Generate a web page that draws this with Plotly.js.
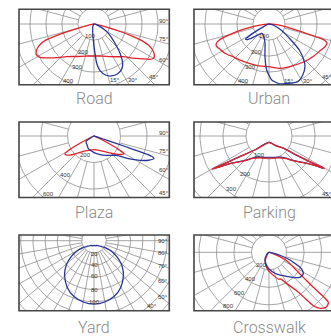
<!DOCTYPE html>
<html><head><meta charset="utf-8">
<script src="https://cdn.plot.ly/plotly-3.0.1.min.js"></script>
<style>html,body{margin:0;padding:0;background:#fff}#chart{width:331px;height:336px}</style>
</head><body><div id="chart"></div>
<script>
// ---------- DATA (gamma angle in degrees, 0 = nadir; intensity cd/klm) ----------
const roadRedAngle  = [-90,-82,-76,-72.9,-70.8,-68.5,-66.8,-64.5,-62.6,-60.5,-58.3,-54,-48,-40,-28,-15,0,15,26,35,42,49,54,57.8,59.8,61.5,63.5,66.1,68.9,71,72.5,74,77,82,90];
const roadRedCd     = [0,15,69,233,336,368,385,400,408,405,397,360,315,266,230,208,200,208,227,250,275,326,370,414,428,429,420,401,364,310,250,170,60,15,0];
const roadBlueAngle = [-90,-45,-25,-12.5,-6,-2.4,0,2,3.9,7.3,13.2,18.8,25,31.4,36.1,41.6,47.4,52,56.9,61,66,72,80,90];
const roadBlueCd    = [0,5,18,38,70,100,140,183,246,294,329,343,345,332,304,245,178,140,107,75,41,18,5,0];
const roadRings     = [100,200,300,400];
const roadAngleTicks = ['90°','75°','60°','45°','30°','15°'];

const urbanRedAngle  = [-90,-85,-80.6,-78,-75.6,-72.2,-69.3,-66.5,-64.2,-56,-48,-38,-26.6,-13,0,15.2,30,43.1,55,63.4,68,71.6,73.5,74.6,76.5,80,85,90];
const urbanRedCd     = [0,40,103,170,234,326,354,356,349,330,305,288,275,269,267,287,300,323,345,363,378,382,365,337,206,120,50,0];
const urbanBlueAngle = [-90,-70,-64,-60,-57,-54,-50,-45,-38,-30,-20,-11.7,-7,-2.9,2.8,10,17.5,26.4,33.5,40.1,43.1,49.4,54,58,63.4,70,78,90];
const urbanBlueCd    = [0,5,40,120,175,165,130,95,75,75,90,123,206,288,350,380,389,403,382,349,323,250,170,125,84,45,15,0];
const urbanRings     = [100,200,300,400];
const urbanAngleTicks = ['15°','30°','45°'];

const plazaRedAngle  = [-90,-70,-65,-62.5,-60.5,-58.6,-56,-52,-46,-35,-20,0,20,38,46,52,57,59.5,61,62.5,64,66,70,90];
const plazaRedCd     = [0,5,40,130,220,257,255,235,195,141,115,103,115,154,190,225,255,263,230,160,90,35,8,0];
const plazaBlueAngle = [-90,-70,-60,-56,-46,-36,-24,0,8.7,25,40,49.6,56.5,62.1,66,69.3,70.5,71,71.4,71.8,73,76,90];
const plazaBlueCd    = [0,5,30,72,80,87,105,125,135,160,190,225,310,393,450,484,465,420,260,100,30,10,0];
const plazaRings     = [200,400,600];
const plazaAngleTicks = ['90°','75°','60°','45°'];

// Parking curves are closed loops: lower edge left->right, then upper edge right->left
const parkingRedAngle  = [-59.8,-58.5,-55,-49.7,-43,-37.3,-25,-12,0,12,25,37.3,43,49.7,55,58,59.4,59.6,58,55.5,50.3,35,0,-35,-43.9,-54.1,-57.9,-59.5,-59.8];
const parkingRedCd     = [288,262,212,175,145,124,105,98,96,98,105,124,145,175,212,250,279,270,215,151,86,52,29,52,80,148,218,270,288];
const parkingBlueAngle = [-59.6,-58.3,-54.8,-49.5,-42.8,-37.1,-25,-12,0,12,25,37.1,42.8,49.5,54.8,57.8,59.2,59.4,57.8,55.3,50.1,35,0,-35,-43.7,-53.9,-57.7,-59.3,-59.6];
const parkingBlueCd    = [283,258,208,172,142,121,102,95,93,95,102,121,142,172,208,246,274,265,211,148,84,50,27,50,78,145,214,265,283];
const parkingRings     = [100,200,300];
const parkingAngleTicks = ['45°'];

const yardBlueAngle = [0,10,20,30,40,45,50,55,58,59.2,58,55,50,45,40,30,20,10,0,-10,-20,-30,-40,-45,-50,-55,-58,-59.2,-58,-55,-50,-45,-40,-30,-20,-10,0];
const yardBlueCd    = [104,102,97,88,75,67,58,46,37,29,22,18,14,12,11,9,9,8,8,8,9,9,11,12,14,18,22,29,37,46,58,67,75,88,97,102,104];
const yardRings     = [20,40,60,80,100];
const yardAngleTicks = ['90°','80°','70°','60°','50°','40°'];

const crossRedAngle  = [-90,-60,-45,-32,-25,-12,-2,10,19,24,30,35.8,38.1,39.7,42.5,46,48.5,49.9,51,51.7,53,55,59,64.6,69,75,82,90];
const crossRedCd     = [0,5,15,50,106,160,210,265,323,335,420,541,667,793,870,905,900,886,780,645,540,432,320,224,100,35,8,0];
const crossBlueAngle = [-90,-60,-45,-30.8,-20,-9.7,0,15.9,28,38.3,45,51.1,57.7,61,64.2,67,69.9,73.8,78,84,90];
const crossBlueCd    = [0,10,40,89,120,155,190,249,300,355,410,455,464,440,393,320,256,151,80,25,0];
const crossRings     = [200,400,600,800];

const panelTitles = ['Road','Urban','Plaza','Parking','Yard','Crosswalk'];

// ---------- LAYOUT / STYLE (pixel geometry of each panel) ----------
const W = 331, H = 336;
const panels = [
  {title:panelTitles[0], rect:[19,9.3,169.3,84.7], c:[94,24], u:6.25, step:100, aStep:15,
   curves:[[roadRedAngle,roadRedCd,'red'],[roadBlueAngle,roadBlueCd,'blue']],
   rings:roadRings, ringPos:[[90,36],[83,52],[77,67],[68,81]],
   ticks:roadAngleTicks, tickPos:[[164,20.7],[164,39.3],[164,60],[154,77.3],[133,80],[115,80]], tpos:[94,98]},
  {title:panelTitles[1], rect:[194,9.3,344.3,84.7], c:[269,24], u:6.25, step:100, aStep:15,
   curves:[[urbanRedAngle,urbanRedCd,'red'],[urbanBlueAngle,urbanBlueCd,'blue']],
   rings:urbanRings, ringPos:[[264,35.7],[256.7,52.3],[250,67.3],[243.3,81]],
   ticks:urbanAngleTicks, tickPos:[[289,80.7],[308.3,80.7],[326.5,77.3]], tpos:[269,98]},
  {title:panelTitles[2], rect:[19,122,169.3,197.5], c:[94,136], u:7.547, step:200, aStep:15,
   curves:[[plazaRedAngle,plazaRedCd,'red'],[plazaBlueAngle,plazaBlueCd,'blue']],
   rings:plazaRings, ringPos:[[85,154.7],[65,174.7],[48.3,193.7]],
   ticks:plazaAngleTicks, tickPos:[[164,132.7],[164,151.3],[164,170.3],[164,192.7]], tpos:[94,212]},
  {title:panelTitles[3], rect:[194,122,344.3,197.5], c:[269,136], u:4.348, step:100, aStep:15,
   curves:[[parkingBlueAngle,parkingBlueCd,'blue'],[parkingRedAngle,parkingRedCd,'red']],
   rings:parkingRings, ringPos:[[259.3,154.7],[245,173.7],[231,189.3]],
   ticks:parkingAngleTicks, tickPos:[[326.5,193.7]], tpos:[269,212]},
  {title:panelTitles[4], rect:[19,235,169.3,310.7], c:[94,240.7], u:1.639, step:20, aStep:10,
   curves:[[yardBlueAngle,yardBlueCd,'blue']],
   rings:yardRings, ringPos:[[94,254],[94,264.7],[94,276.3],[94,289.7],[94,301.7]],
   ticks:yardAngleTicks, tickPos:[[163.3,240.7],[163.3,253.3],[163.3,265.7],[163.3,281.3],[163.3,296.7],[151.7,305.7]], tpos:[94,327]},
  {title:panelTitles[5], rect:[194,235,344.3,310.7], c:[269,252.3], u:11.43, step:200, aStep:15,
   curves:[[crossRedAngle,crossRedCd,'red'],[crossBlueAngle,crossBlueCd,'blue']],
   rings:crossRings, ringPos:[[261.7,264.7],[250,279],[239,293.3],[228.3,305.7]],
   ticks:[], tickPos:[], tpos:[269,327]}
];
const COLORS = {red:'#e3222b', blue:'#26359a'};
const GRID = '#8e8e8e', BORDER = '#454545';
const D2R = Math.PI/180;

const traces = [], shapes = [], annotations = [];
const layout = {width:W, height:H, margin:{l:0,r:0,t:0,b:0}, paper_bgcolor:'#fff', plot_bgcolor:'rgba(0,0,0,0)',
  showlegend:false, shapes:shapes, annotations:annotations};

panels.forEach((p,i)=>{
  const k = i===0 ? '' : String(i+1);
  const xa = 'x'+k, ya = 'y'+k;
  const [x0,y0,x1,y1] = p.rect, [cx,cy] = p.c, u = p.u;
  const vx1 = Math.min(x1, W);
  layout['xaxis'+k] = {domain:[x0/W, vx1/W], range:[(x0-cx)*u, (vx1-cx)*u], visible:false, fixedrange:true};
  layout['yaxis'+k] = {domain:[1-y1/H, 1-y0/H], range:[-(y1-cy)*u, (cy-y0)*u], visible:false, fixedrange:true};
  // grid: rings and radial lines
  const gx = [], gy = [];
  const maxR = 130*u;
  for (let r=p.step; r<=maxR; r+=p.step){
    for (let a=0; a<=360; a+=3){ gx.push(r*Math.sin(a*D2R)); gy.push(-r*Math.cos(a*D2R)); }
    gx.push(null); gy.push(null);
  }
  for (let a=-180; a<180; a+=p.aStep){
    gx.push(p.step*Math.sin(a*D2R), maxR*Math.sin(a*D2R), null);
    gy.push(-p.step*Math.cos(a*D2R), -maxR*Math.cos(a*D2R), null);
  }
  traces.push({type:'scatter', mode:'lines', x:gx, y:gy, xaxis:xa, yaxis:ya, hoverinfo:'skip',
    line:{color:GRID, width:0.8}});
  // light distribution curves
  p.curves.forEach(([ang, cd, col])=>{
    traces.push({type:'scatter', mode:'lines', xaxis:xa, yaxis:ya, hoverinfo:'skip',
      x: cd.map((v,j)=>v*Math.sin(ang[j]*D2R)),
      y: cd.map((v,j)=>-v*Math.cos(ang[j]*D2R)),
      line:{color:COLORS[col], width:1.3, shape:'spline', smoothing:0.6}});
  });
  // border
  shapes.push({type:'rect', xref:'paper', yref:'paper', x0:x0/W, x1:x1/W, y0:1-y1/H, y1:1-y0/H,
    line:{color:BORDER, width:1.6}, layer:'above'});
  // ring labels
  p.rings.forEach((t,j)=>{
    annotations.push({xref:'paper', yref:'paper', x:p.ringPos[j][0]/W, y:1-p.ringPos[j][1]/H,
      text:String(t), showarrow:false, xanchor:'center', yanchor:'middle',
      font:{family:'Liberation Sans, Arial, sans-serif', size:6, color:'#333'}});
  });
  p.ticks.forEach((t,j)=>{
    annotations.push({xref:'paper', yref:'paper', x:p.tickPos[j][0]/W, y:1-p.tickPos[j][1]/H,
      text:t, showarrow:false, xanchor:'center', yanchor:'middle',
      font:{family:'Liberation Sans, Arial, sans-serif', size:6, color:'#333'}});
  });
  annotations.push({xref:'paper', yref:'paper', x:p.tpos[0]/W, y:1-p.tpos[1]/H, text:p.title,
    showarrow:false, xanchor:'center', yanchor:'middle',
    font:{family:'Roboto, sans-serif', size:16, color:'#8a8a8a', weight:300}});
});

Plotly.newPlot('chart', traces, layout, {staticPlot:true, displayModeBar:false});
</script>
</body></html>
